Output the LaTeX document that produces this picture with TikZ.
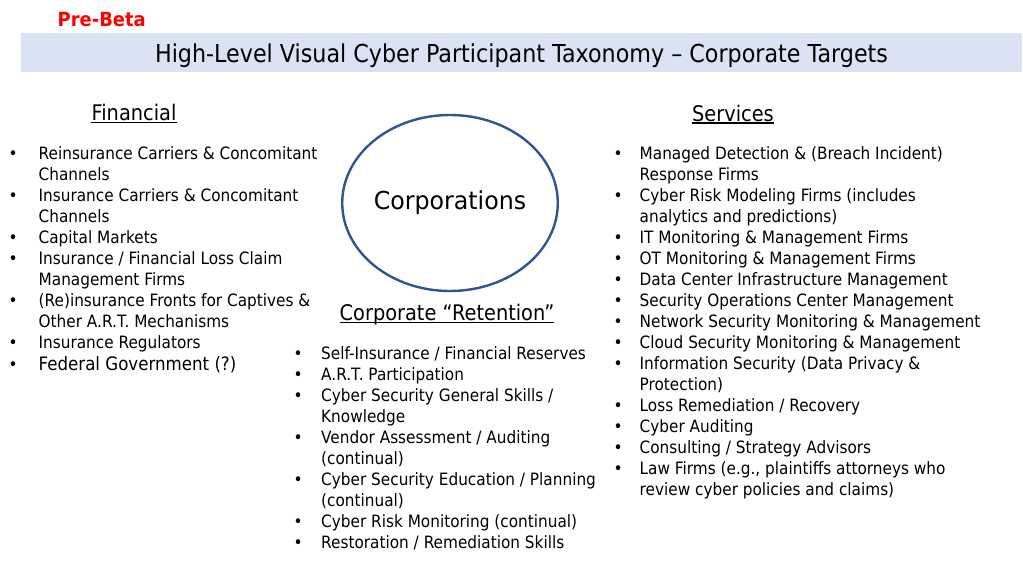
\documentclass[tikz,border=0pt]{standalone}
\usepackage{fontspec}
\setmainfont[FakeStretch=0.9]{DejaVu Sans}
\newfontfamily\corpfont[FakeStretch=0.96]{DejaVu Sans}
\newfontfamily\prefont[FakeStretch=0.92]{DejaVu Sans}
\usetikzlibrary{shapes.geometric}
\definecolor{bandblue}{HTML}{DAE3F3}
\definecolor{ringblue}{HTML}{2F5597}
\definecolor{prered}{HTML}{FF0000}
\tikzset{
  header/.style={anchor=base, inner sep=0pt, font=\fontsize{21.5}{25}\selectfont},
  uline/.style={line width=1.2pt, black},
  listbox/.style={anchor=base west, inner sep=0pt, align=left, font=\fontsize{17}{21}\selectfont},
}
\begin{document}
\begin{tikzpicture}[x=1pt,y=-1pt]
\useasboundingbox (0,0) rectangle (1023,563);
\fill[white] (0,0) rectangle (1023,563);
% title band
\fill[bandblue] (21,33) rectangle (1022,72);
\node[anchor=base west, inner sep=0pt, text=prered, font=\prefont\bfseries\fontsize{19.5}{22}\selectfont] (pre) at (57.5,26.7) {Pre-Beta};
\node[anchor=base, inner sep=0pt, font=\fontsize{24.7}{28}\selectfont] (title) at (521.5,62.3) {High-Level Visual Cyber Participant Taxonomy -- Corporate Targets};
% headers
\node[header] (fin) at (134,120.7) {Financial};
\node[header] (serv) at (733,121) {Services};
\node[header] (ret) at (447,320.7) {Corporate “Retention”};
\draw[uline] ([yshift=-2pt]fin.base west) -- ([yshift=-2pt]fin.base east);
\draw[uline] ([yshift=-2pt]serv.base west) -- ([yshift=-2pt]serv.base east);
\draw[uline] ([yshift=-2pt]ret.base west) -- ([yshift=-2pt]ret.base east);
% central ellipse
\node[draw=ringblue, line width=2.4pt, ellipse, minimum width=208pt, minimum height=176pt, inner sep=0pt, font=\corpfont\fontsize{24.7}{28}\selectfont] (corp) at (450,203) {\raisebox{2pt}{Corporations}};
% left list
\node[listbox] (finlist) at (8.5,159) {%
\begin{tabular}[t]{@{}p{30pt}@{}l@{}}
\textbullet & Reinsurance Carriers \& Concomitant\\
 & Channels\\
\textbullet & Insurance Carriers \& Concomitant\\
 & Channels\\
\textbullet & Capital Markets\\
\textbullet & Insurance / Financial Loss Claim\\
 & Management Firms\\
\textbullet & (Re)insurance Fronts for Captives \&\\
 & Other A.R.T. Mechanisms\\
\textbullet & Insurance Regulators\\
\textbullet\rule{0pt}{15.7pt} & {\fontsize{18.5}{22}\selectfont Federal Government (?)}\\
\end{tabular}};
% middle list
\node[listbox] (retlist) at (293.5,359) {%
\begin{tabular}[t]{@{}p{27.5pt}@{}l@{}}
\textbullet & Self-Insurance / Financial Reserves\\
\textbullet & A.R.T. Participation\\
\textbullet & Cyber Security General Skills /\\
 & Knowledge\\
\textbullet & Vendor Assessment / Auditing\\
 & (continual)\\
\textbullet & Cyber Security Education / Planning\\
 & (continual)\\
\textbullet & Cyber Risk Monitoring (continual)\\
\textbullet & Restoration / Remediation Skills\\
\end{tabular}};
% right list
\node[listbox] (servlist) at (613.5,159) {%
\begin{tabular}[t]{@{}p{26pt}@{}l@{}}
\textbullet & Managed Detection \& (Breach Incident)\\
 & Response Firms\\
\textbullet & Cyber Risk Modeling Firms (includes\\
 & analytics and predictions)\\
\textbullet & IT Monitoring \& Management Firms\\
\textbullet & OT Monitoring \& Management Firms\\
\textbullet & Data Center Infrastructure Management\\
\textbullet & Security Operations Center Management\\
\textbullet & Network Security Monitoring \& Management\\
\textbullet & Cloud Security Monitoring \& Management\\
\textbullet & Information Security (Data Privacy \&\\
 & Protection)\\
\textbullet & Loss Remediation / Recovery\\
\textbullet & Cyber Auditing\\
\textbullet & Consulting / Strategy Advisors\\
\textbullet & Law Firms (e.g., plaintiffs attorneys who\\
 & review cyber policies and claims)\\
\end{tabular}};
\end{tikzpicture}
\end{document}
